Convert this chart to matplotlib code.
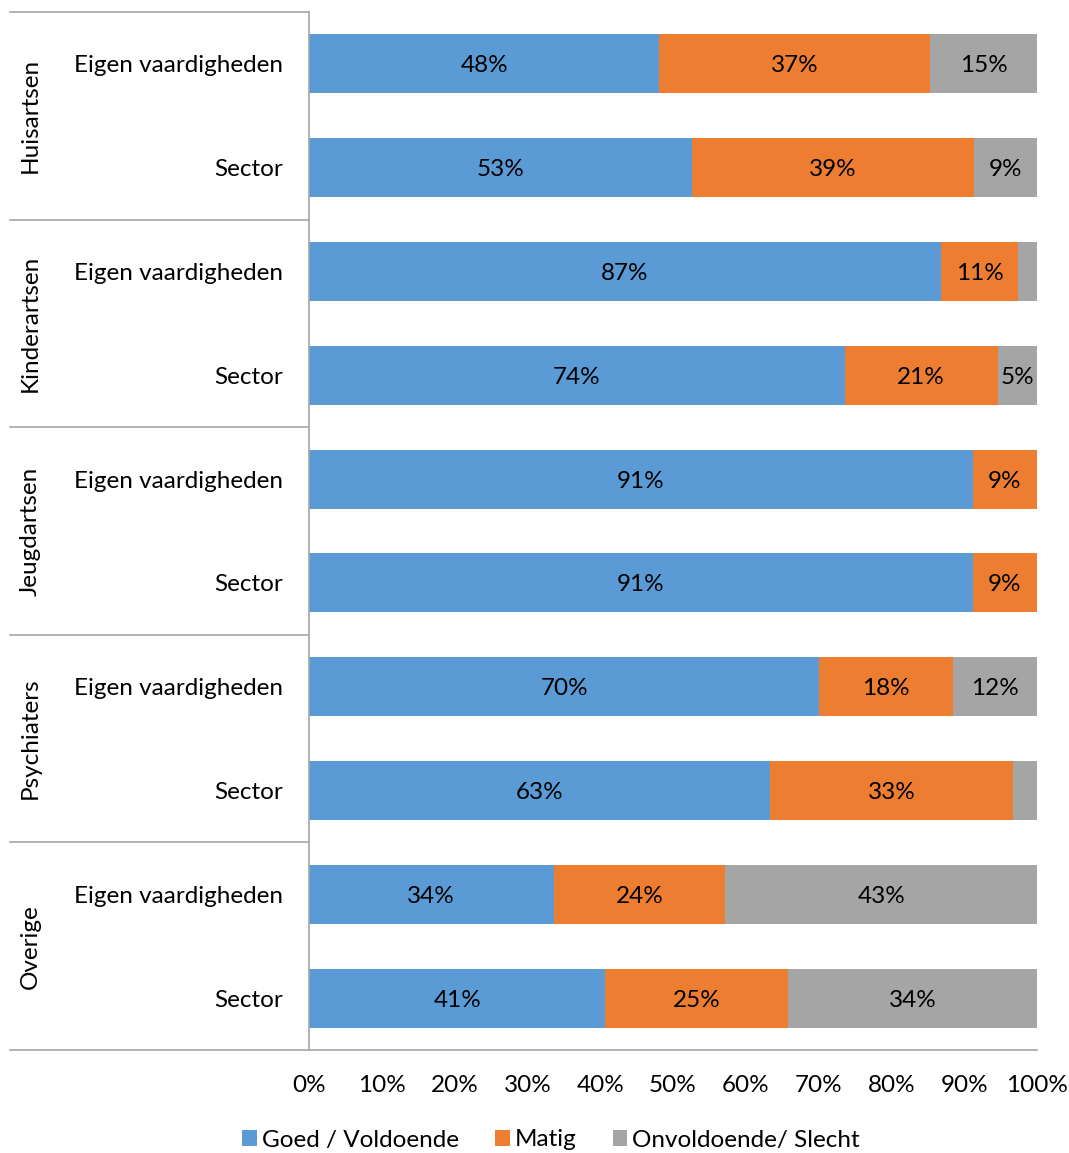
import matplotlib
matplotlib.use("Agg")
import matplotlib.pyplot as plt
from matplotlib.patches import Patch
import matplotlib.transforms as mtransforms

groups = ["Huisartsen", "Kinderartsen", "Jeugdartsen", "Psychiaters", "Overige"]
rows = ["Eigen vaardigheden", "Sector"]
series_names = ["Goed / Voldoende", "Matig", "Onvoldoende/ Slecht"]
goed = [48.1, 52.6, 86.8, 73.6, 91.2, 91.2, 70.1, 63.3, 33.6, 40.7]
matig = [37.2, 38.7, 10.6, 21.0, 8.8, 8.8, 18.3, 33.4, 23.6, 25.1]
slecht = [14.7, 8.7, 2.6, 5.4, 0.0, 0.0, 11.6, 3.3, 42.9, 34.2]
xticks = [0, 10, 20, 30, 40, 50, 60, 70, 80, 90, 100]
xticklabels = [f"{t}%" for t in xticks]

colors = ["#5B9BD5", "#ED7D31", "#A5A5A5"]
FONT = "Lato"
FS = 17.5
plt.rcParams["font.family"] = [FONT, "DejaVu Sans"]

W, H = 1069, 1153
fig = plt.figure(figsize=(W / 100, H / 100), dpi=100)
left, right, top, bottom = 309, 1037, 12, 1050
ax = fig.add_axes([left / W, 1 - bottom / H, (right - left) / W, (bottom - top) / H])

n = len(goed)
ypos = [i + 0.5 for i in range(n)]
bh = 0.57
lefts = [0.0] * n
for vals, col in zip([goed, matig, slecht], colors):
    ax.barh(ypos, vals, left=lefts, height=bh, color=col, edgecolor="none")
    for y, v, l in zip(ypos, vals, lefts):
        if v >= 4:
            ax.text(l + v / 2, y + 0.02, f"{v:.0f}%", ha="center", va="center",
                    fontsize=FS, color="#000000")
    lefts = [a + b for a, b in zip(lefts, vals)]

ax.set_xlim(0, 100)
ax.set_ylim(n, 0)
ax.set_xticks(xticks)
ax.set_xticklabels(xticklabels, fontsize=FS)
ax.set_yticks([])
ax.tick_params(axis="x", length=0, pad=18)
for s in ["top", "right", "bottom"]:
    ax.spines[s].set_visible(False)
ax.spines["left"].set_color("#A6A6A6")
ax.spines["left"].set_linewidth(1.2)

trans = mtransforms.blended_transform_factory(ax.transAxes, ax.transData)
x0 = (10 - left) / (right - left)
line_kw = dict(color="#A6A6A6", lw=1.2, clip_on=False, transform=trans)
for g in range(len(groups) + 1):
    y = g * 2
    xe = 1.0 if g == len(groups) else 0.0
    ax.plot([x0, xe], [y, y], **line_kw)

xrow = (283 - left) / (right - left)
xgrp = (30 - left) / (right - left)
for g, name in enumerate(groups):
    ax.text(xgrp, g * 2 + 1, name, rotation=90, ha="center", va="center",
            fontsize=FS, transform=trans)
    for r, rn in enumerate(rows):
        ax.text(xrow, g * 2 + r + 0.52, rn, ha="right", va="center",
                fontsize=FS, transform=trans)

handles = [Patch(facecolor=c, edgecolor="none") for c in colors]
fig.legend(handles, series_names, loc="center", bbox_to_anchor=(551 / W, 13 / H),
           ncol=3, frameon=False, fontsize=FS, handlelength=0.6, handleheight=0.6,
           handletextpad=0.2, columnspacing=1.5, borderaxespad=0)

fig.savefig("out.png", dpi=100)
